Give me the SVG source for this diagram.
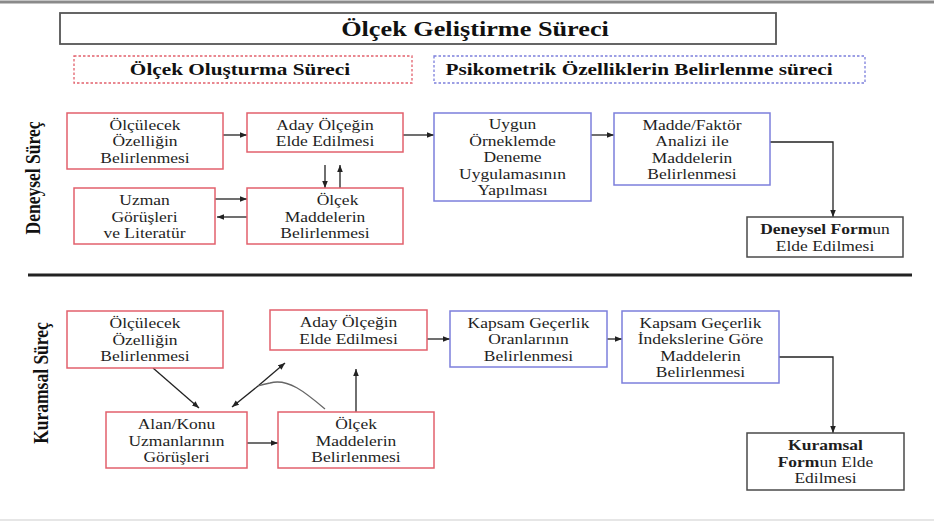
<svg xmlns="http://www.w3.org/2000/svg" width="934" height="523" viewBox="0 0 934 523">
<defs>
<style>
.t{font-family:"Liberation Serif","Times New Roman",serif;font-size:14px;fill:#1e1e1e;text-anchor:middle}
.h{font-family:"Liberation Serif","Times New Roman",serif;font-weight:bold;fill:#111;text-anchor:middle}
.b{font-weight:bold}
.red rect{fill:#fff;stroke:#e2606c;stroke-width:1.5}
.blue rect{fill:#fff;stroke:#7c7fdc;stroke-width:1.5}
.blk rect{fill:#fff;stroke:#4a4a4a;stroke-width:1.5}
.c{fill:none;stroke:#222;stroke-width:1.3}
.a{marker-end:url(#ar)}
</style>
<marker id="ar" viewBox="0 0 10 10" refX="10" refY="5" markerWidth="7" markerHeight="7" orient="auto-start-reverse" markerUnits="userSpaceOnUse">
<path d="M0,1 L10,5 L0,9z" fill="#222"/>
</marker>
</defs>
<rect width="934" height="523" fill="#fff"/>
<line x1="0" y1="2" x2="934" y2="2" stroke="#8a8a8a" stroke-width="3"/>
<line x1="0" y1="520" x2="934" y2="520" stroke="#e6e6e6" stroke-width="2"/>

<g id="title">
<rect x="60" y="13" width="716" height="31" fill="#fff" stroke="#555" stroke-width="1.8"/>
<text class="h" font-size="21" transform="translate(475,0) scale(1.25,1)" x="0" y="36">Ölçek Geliştirme Süreci</text>
</g>
<g id="head-red">
<rect x="74" y="56" width="338" height="27" fill="none" stroke="#e2606c" stroke-width="1.3" stroke-dasharray="2.5,2"/>
<text class="h" font-size="17" transform="translate(240,0) scale(1.25,1)" x="0" y="75.5">Ölçek Oluşturma Süreci</text>
</g>
<g id="head-blue">
<rect x="434" y="56" width="431" height="27" fill="none" stroke="#7c7fdc" stroke-width="1.3" stroke-dasharray="2.5,2"/>
<text class="h" font-size="17" transform="translate(639,0) scale(1.25,1)" x="0" y="75.5">Psikometrik Özelliklerin Belirlenme süreci</text>
</g>

<g id="label-deneysel">
<text class="h" font-size="17.5" transform="translate(33,178) scale(1.25,1) rotate(-90)" x="0" y="5.5">Deneysel Süreç</text>
</g>
<g id="label-kuramsal">
<text class="h" font-size="17.5" transform="translate(41,383) scale(1.25,1) rotate(-90)" x="0" y="5.5">Kuramsal Süreç</text>
</g>
<line x1="28" y1="275" x2="912" y2="275" stroke="#222" stroke-width="3"/>

<g id="connectors">
<line class="c a" x1="223" y1="135" x2="247" y2="135"/>
<line class="c a" x1="403" y1="135" x2="434" y2="135"/>
<line class="c a" x1="591" y1="135" x2="614" y2="135"/>
<polyline class="c a" points="770,142 833,142 833,217"/>
<line class="c a" x1="325" y1="165" x2="325" y2="188"/>
<line class="c a" x1="340" y1="188" x2="340" y2="165"/>
<line class="c a" x1="215" y1="199" x2="247" y2="199"/>
<line class="c a" x1="247" y1="217" x2="217" y2="217"/>

<line class="c a" x1="153" y1="368" x2="199" y2="408"/>
<line class="c a" x1="258" y1="386" x2="285" y2="363"/>
<line class="c a" x1="258" y1="386" x2="232" y2="407"/>
<path d="M325,409 C305,392 288,378 270,383 C265,384 261,385 258,386" fill="none" stroke="#666" stroke-width="1.3"/>
<line class="c a" x1="356" y1="412" x2="356" y2="369"/>
<line class="c a" x1="247" y1="443" x2="278" y2="443"/>
<line class="c a" x1="427" y1="339" x2="450" y2="339"/>
<line class="c a" x1="607" y1="339" x2="622" y2="339"/>
<polyline class="c a" points="772,357 833,357 833,433"/>
</g>

<g id="a1" class="red">
<rect x="67" y="113" width="156" height="56"/>
<text class="t" transform="translate(145,0) scale(1.25,1)"><tspan x="0" y="130">Ölçülecek</tspan><tspan x="0" y="146.5">Özelliğin</tspan><tspan x="0" y="163">Belirlenmesi</tspan></text>
</g>
<g id="a2" class="red">
<rect x="247" y="113" width="156" height="39"/>
<text class="t" transform="translate(325,0) scale(1.25,1)"><tspan x="0" y="129.75">Aday Ölçeğin</tspan><tspan x="0" y="146.25">Elde Edilmesi</tspan></text>
</g>
<g id="a3" class="red">
<rect x="74" y="188" width="141" height="56"/>
<text class="t" transform="translate(144.5,0) scale(1.25,1)"><tspan x="0" y="205.5">Uzman</tspan><tspan x="0" y="222">Görüşleri</tspan><tspan x="0" y="238.5">ve Literatür</tspan></text>
</g>
<g id="a4" class="red">
<rect x="247" y="188" width="156" height="56"/>
<text class="t" transform="translate(325,0) scale(1.25,1)"><tspan x="10" y="205.5">Ölçek</tspan><tspan x="0" y="222">Maddelerin</tspan><tspan x="0" y="238.5">Belirlenmesi</tspan></text>
</g>
<g id="b1" class="blue">
<rect x="434" y="113" width="157" height="88"/>
<text class="t" transform="translate(512.5,0) scale(1.25,1)"><tspan x="0" y="129.5">Uygun</tspan><tspan x="0" y="146">Örneklemde</tspan><tspan x="0" y="162.5">Deneme</tspan><tspan x="0" y="179">Uygulamasının</tspan><tspan x="0" y="195.5">Yapılması</tspan></text>
</g>
<g id="b2" class="blue">
<rect x="614" y="113" width="156" height="72"/>
<text class="t" transform="translate(692,0) scale(1.25,1)"><tspan x="0" y="129.75">Madde/Faktör</tspan><tspan x="0" y="146.25">Analizi ile</tspan><tspan x="0" y="162.75">Maddelerin</tspan><tspan x="0" y="179.25">Belirlenmesi</tspan></text>
</g>
<g id="c1" class="blk">
<rect x="747" y="217" width="156" height="40"/>
<text class="t" transform="translate(825,0) scale(1.25,1)"><tspan x="0" y="234.25"><tspan class="b">Deneysel Form</tspan>un</tspan><tspan x="0" y="250.75">Elde Edilmesi</tspan></text>
</g>

<g id="k1" class="red">
<rect x="67" y="311" width="156" height="57"/>
<text class="t" transform="translate(145,0) scale(1.25,1)"><tspan x="0" y="328.5">Ölçülecek</tspan><tspan x="0" y="345">Özelliğin</tspan><tspan x="0" y="361.5">Belirlenmesi</tspan></text>
</g>
<g id="k2" class="red">
<rect x="270" y="310" width="157" height="40"/>
<text class="t" transform="translate(348.5,0) scale(1.25,1)"><tspan x="0" y="327.25">Aday Ölçeğin</tspan><tspan x="0" y="343.75">Elde Edilmesi</tspan></text>
</g>
<g id="k3" class="red">
<rect x="106" y="412" width="141" height="56"/>
<text class="t" transform="translate(176.5,0) scale(1.25,1)"><tspan x="0" y="429.5">Alan/Konu</tspan><tspan x="0" y="446">Uzmanlarının</tspan><tspan x="0" y="462.5">Görüşleri</tspan></text>
</g>
<g id="k4" class="red">
<rect x="278" y="412" width="156" height="56"/>
<text class="t" transform="translate(356,0) scale(1.25,1)"><tspan x="0" y="429.5">Ölçek</tspan><tspan x="0" y="446">Maddelerin</tspan><tspan x="0" y="462.5">Belirlenmesi</tspan></text>
</g>
<g id="kb1" class="blue">
<rect x="450" y="311" width="157" height="56"/>
<text class="t" transform="translate(528.5,0) scale(1.25,1)"><tspan x="0" y="328">Kapsam Geçerlik</tspan><tspan x="0" y="344.5">Oranlarının</tspan><tspan x="0" y="361">Belirlenmesi</tspan></text>
</g>
<g id="kb2" class="blue">
<rect x="622" y="311" width="157" height="72"/>
<text class="t" transform="translate(700.5,0) scale(1.25,1)"><tspan x="0" y="327.75">Kapsam Geçerlik</tspan><tspan x="0" y="344.25">İndekslerine Göre</tspan><tspan x="0" y="360.75">Maddelerin</tspan><tspan x="0" y="377.25">Belirlenmesi</tspan></text>
</g>
<g id="kc" class="blk">
<rect x="747" y="433" width="157" height="57"/>
<text class="t" transform="translate(825.5,0) scale(1.25,1)"><tspan x="0" y="450.5" class="b">Kuramsal</tspan><tspan x="0" y="467"><tspan class="b">Form</tspan>un Elde</tspan><tspan x="0" y="483.5">Edilmesi</tspan></text>
</g>
</svg>
